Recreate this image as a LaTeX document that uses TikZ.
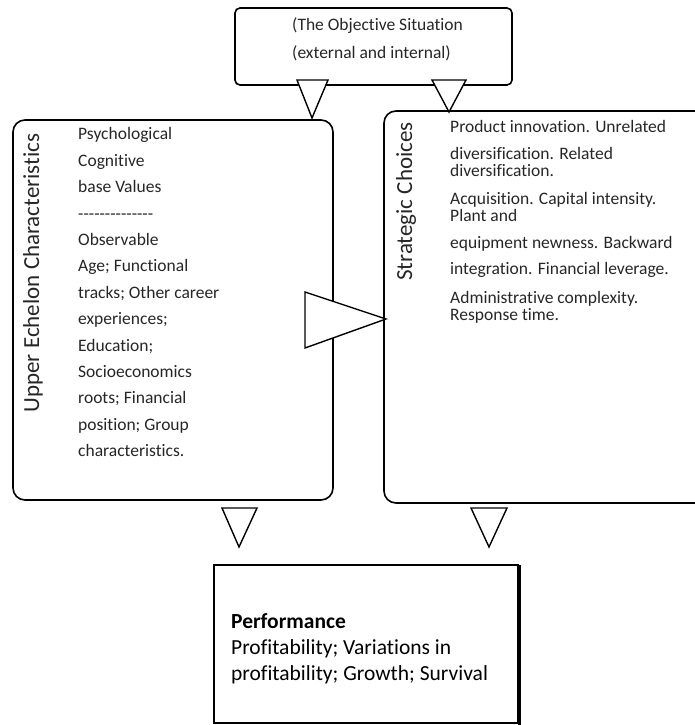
\documentclass[tikz,border=0pt]{standalone}
\usepackage{fontspec}
\setmainfont[Ligatures=NoCommon]{Carlito}
\begin{document}
\begin{tikzpicture}[x=1pt,y=-1pt,
  box/.style={draw=black,line width=1.6pt,rounded corners=12pt},
  tri/.style={draw=black,fill=white,line width=1.4pt,line join=miter},
  body/.style={anchor=north west,inner sep=0pt,align=left,text=black!85},
  side/.style={rotate=90,inner sep=0pt,font=\fontsize{23}{26}\selectfont,text=black!85}]
\useasboundingbox (0,0) rectangle (694,725);
% boxes
\draw[box,rounded corners=5pt] (235,8) rectangle (512,85);
\draw[box] (13,120) rectangle (333,500);
\draw[box] (384,111) rectangle (720,503);
\draw[draw=black,line width=1.6pt] (214,565) rectangle (518,723);
\draw[draw=black,line width=3pt] (519,565) -- (519,724.5);
% triangles
\draw[tri] (297,80) -- (328,80) -- (312,118) -- cycle;
\draw[tri] (432,80) -- (466,80) -- (449,112) -- cycle;
\draw[tri] (305,292) -- (305,348) -- (386,319) -- cycle;
\draw[tri] (222,508) -- (257,508) -- (239,547) -- cycle;
\draw[tri] (471,508) -- (507,508) -- (489,547) -- cycle;
% texts
\node[body,font=\fontsize{17.5}{28.5}\selectfont] (obj) at (292,17.5) {(The Objective Situation\\(external and internal)};
\node[side] (uec) at (33,273) {Upper Echelon Characteristics};
\node[side] (sc) at (406,201.5) {Strategic Choices};
\node[body,font=\fontsize{17.5}{26.4}\selectfont] (ue) at (78,127.5) {Psychological\\Cognitive\\base Values\\{-}{-}{-}{-}{-}{-}{-}{-}{-}{-}{-}{-}{-}{-}\\Observable\\Age; Functional\\tracks; Other career\\experiences;\\Education;\\Socioeconomics\\roots; Financial\\position; Group\\characteristics.};
\node[body,font=\fontsize{17.5}{17.5}\selectfont] (st) at (450,120) {Product innovation. Unrelated\\[9.5pt]diversification. Related\\diversification.\\[10pt]Acquisition. Capital intensity.\\Plant and\\[9.5pt]equipment newness. Backward\\[8.5pt]integration. Financial leverage.\\[11pt]Administrative complexity.\\Response time.};
\node[body,font=\fontsize{21.5}{26.5}\selectfont,text=black] (perf) at (231,613) {\textbf{Performance}\\[-0.5pt]Profitability; Variations in\\profitability; Growth; Survival};
\end{tikzpicture}
\end{document}
